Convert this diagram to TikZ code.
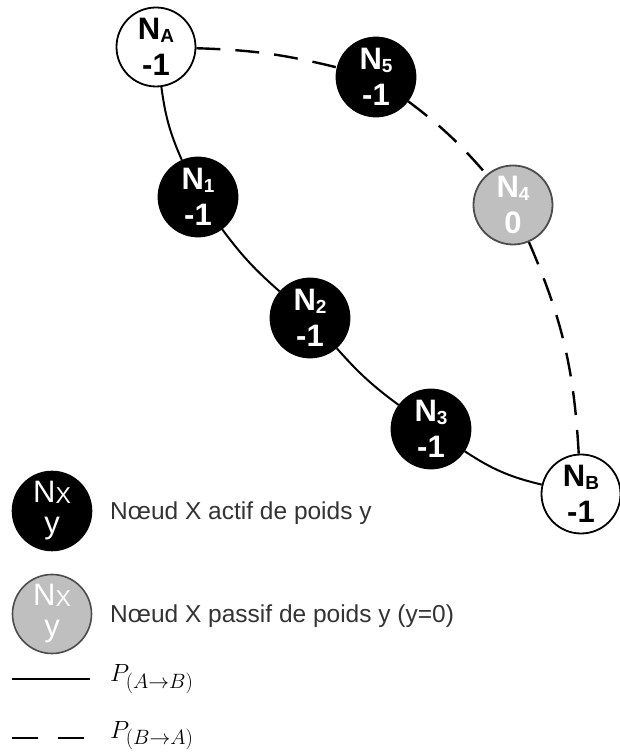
\documentclass[tikz,border=0pt]{standalone}
\usepackage{fontspec}
\setmainfont{Liberation Sans}
\newcommand{\nsub}[1]{\raisebox{-3pt}{\fontsize{19}{19}\selectfont #1}}
\newcommand{\lsub}[1]{\raisebox{-1pt}{\fontsize{23}{23}\selectfont #1}}
\begin{document}
\begin{tikzpicture}[x=1pt,y=1pt,
  nd/.style={circle,draw=black,line width=1.8pt,minimum size=79pt,inner sep=0pt,align=center,
     font=\fontsize{31}{36}\selectfont\bfseries},
  act/.style={nd,fill=black,text=white},
  pas/.style={nd,fill=gray!50,draw=black!70,text=white},
  wht/.style={nd,fill=white,text=black},
  leg/.style={circle,line width=1.6pt,minimum size=79pt,inner sep=0pt,align=center,
     font=\fontsize{31}{31}\selectfont},
  lbl/.style={anchor=base west,inner sep=0pt,font=\fontsize{24.5}{24.5}\selectfont,text=black!80},
  plbl/.style={anchor=base west,inner sep=0pt,font=\fontsize{30}{30}\selectfont},
  solidp/.style={line width=2pt},
  dashp/.style={line width=2.4pt,dash pattern=on 24pt off 15pt}]
\useasboundingbox (0,0) rectangle (619,754);
% nodes
\node[wht] (NA) at (156,707) {N\nsub{A}\\-1};
\node[act] (N5) at (376,677) {N\nsub{5}\\-1};
\node[pas] (N4) at (513,549) {N\nsub{4}\\0};
\node[wht] (NB) at (581,260) {N\nsub{B}\\-1};
\node[act] (N1) at (198,557) {N\nsub{1}\\-1};
\node[act] (N2) at (310,436) {N\nsub{2}\\-1};
\node[act] (N3) at (431,325) {N\nsub{3}\\-1};
% paths
\draw[solidp] (NA) to[bend right=8] (N1);
\draw[solidp] (N1) to[bend right=6] (N2);
\draw[solidp] (N2) to[bend right=6] (N3);
\draw[solidp] (N3) to[bend right=10] (NB);
\draw[dashp] (NA) to[bend left=6] (N5);
\draw[dashp] (N5) to[bend left=6] (N4);
\draw[dashp] (N4) to[bend left=10] (NB);
% legend
\node[leg,fill=black,draw=black,text=white] (LA) at (52,243) {N\lsub{X}\\y};
\node[lbl] (TA) at (110,234) {Nœud X actif de poids y};
\node[leg,fill=gray!50,draw=black!70,text=white] (LP) at (52,140) {N\lsub{X}\\y};
\node[lbl] (TP) at (110,131) {Nœud X passif de poids y (y=0)};
\coordinate (s1) at (12,75);
\coordinate (s2) at (90,75);
\draw[line width=2.2pt] (s1) -- (s2);
\node[plbl] (PA) at (110,72) {$P_{(A\rightarrow B)}$};
\coordinate (d1) at (12,16);
\coordinate (d2) at (90,16);
\draw[line width=2.2pt,dash pattern=on 26pt off 20pt] (d1) -- (d2);
\node[plbl] (PB) at (110,16) {$P_{(B\rightarrow A)}$};
\end{tikzpicture}
\end{document}
